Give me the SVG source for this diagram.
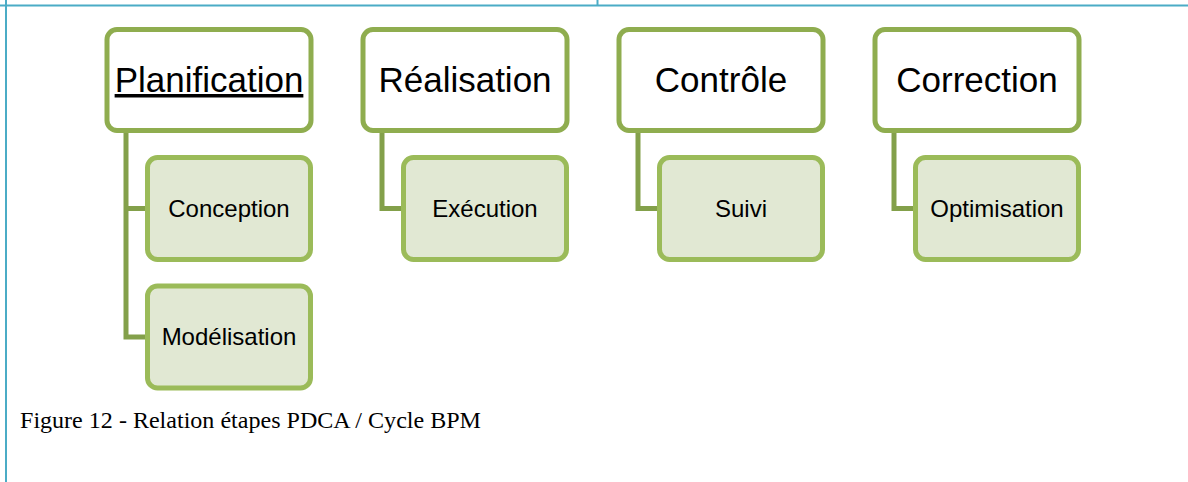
<svg xmlns="http://www.w3.org/2000/svg" width="1188" height="482" viewBox="0 0 1188 482">
<style>
.frame{stroke:#4BACC6;stroke-width:2;fill:none}
.parent{fill:#FFFFFF;stroke:#8FAD4F;stroke-width:5}
.child{fill:#E1E8D3;stroke:#9BBB59;stroke-width:5}
.conn{fill:none;stroke:#83A04A;stroke-width:5;stroke-linejoin:miter}
.pt{font-family:"Liberation Sans",Arial,sans-serif;font-size:35px;fill:#000;text-anchor:middle}
.ct{font-family:"Liberation Sans",Arial,sans-serif;font-size:24px;fill:#000;text-anchor:middle}
.cap{font-family:"Liberation Serif","Times New Roman",serif;font-size:23px;fill:#000}
</style>
<rect width="1188" height="482" fill="#FFFFFF"/>
<g id="frame">
<line class="frame" x1="0" y1="5.5" x2="1188" y2="5.5"/>
<line class="frame" x1="6" y1="0" x2="6" y2="482"/>
<line class="frame" x1="597.5" y1="0" x2="597.5" y2="5.5"/>
</g>
<g id="connectors">
<path class="conn" d="M126,133 V337 H147 M126,208.5 H147"/>
<path class="conn" d="M382,133 V208.5 H403"/>
<path class="conn" d="M638,133 V208.5 H659"/>
<path class="conn" d="M894,133 V208.5 H915"/>
</g>
<g id="planification">
<rect class="parent" x="107" y="29.5" width="204" height="101" rx="10"/>
<text class="pt" x="209" y="92" text-decoration="underline">Planification</text>
</g>
<g id="realisation">
<rect class="parent" x="363" y="29.5" width="204" height="101" rx="10"/>
<text class="pt" x="465" y="92">Réalisation</text>
</g>
<g id="controle">
<rect class="parent" x="619" y="29.5" width="204" height="101" rx="10"/>
<text class="pt" x="721" y="92">Contrôle</text>
</g>
<g id="correction">
<rect class="parent" x="875" y="29.5" width="204" height="101" rx="10"/>
<text class="pt" x="977" y="92">Correction</text>
</g>
<g id="conception">
<rect class="child" x="147.5" y="157.5" width="163" height="102" rx="10"/>
<text class="ct" x="229" y="217">Conception</text>
</g>
<g id="modelisation">
<rect class="child" x="147.5" y="286" width="163" height="102" rx="10"/>
<text class="ct" x="229" y="345">Modélisation</text>
</g>
<g id="execution">
<rect class="child" x="403.5" y="157.5" width="163" height="102" rx="10"/>
<text class="ct" x="485" y="217">Exécution</text>
</g>
<g id="suivi">
<rect class="child" x="659.5" y="157.5" width="163" height="102" rx="10"/>
<text class="ct" x="741" y="217">Suivi</text>
</g>
<g id="optimisation">
<rect class="child" x="915.5" y="157.5" width="163" height="102" rx="10"/>
<text class="ct" x="997" y="217">Optimisation</text>
</g>
<text class="cap" x="20" y="428" textLength="461" lengthAdjust="spacingAndGlyphs">Figure 12 - Relation étapes PDCA / Cycle BPM</text>
</svg>
